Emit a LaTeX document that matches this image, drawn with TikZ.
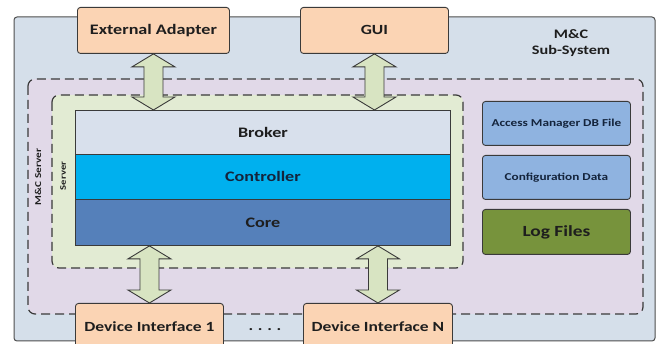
\documentclass[tikz,border=0pt]{standalone}
\usepackage{fontspec}
\setmainfont{Carlito}[FakeStretch=1.25]
\usetikzlibrary{calc}

\definecolor{sysfill}{HTML}{D5DFEA}
\definecolor{srvfill}{HTML}{E1D9E8}
\definecolor{innerfill}{HTML}{E2EBD3}
\definecolor{brokerfill}{HTML}{D8E0EC}
\definecolor{ctrlfill}{HTML}{00B0EE}
\definecolor{corefill}{HTML}{5580BA}
\definecolor{extfill}{HTML}{FBD4B4}
\definecolor{filefill}{HTML}{8FB3E0}
\definecolor{logfill}{HTML}{77933C}
\definecolor{arrowfill}{HTML}{D8E4C2}
\definecolor{edge}{HTML}{3A3A3A}
\definecolor{inktext}{HTML}{1E1E1E}
\definecolor{navytext}{HTML}{14243C}

\tikzset{
  x=1pt, y=-1pt,
  box/.style={draw=edge, line width=0.9pt, rounded corners=3pt, inner sep=0pt,
              font=\bfseries, text=inktext, anchor=north west},
  layer/.style={draw=edge, line width=0.9pt, inner sep=0pt, anchor=north west,
                font=\bfseries\fontsize{14.5}{16}\selectfont},
  dashbox/.style={draw=edge, line width=1.2pt, dash pattern=on 9pt off 5pt,
                  rounded corners=7pt},
  bidir/.style={draw=edge, line width=0.9pt, fill=arrowfill, line join=miter},
}

% double-headed block arrow between two points on a vertical line
\newcommand\blockarrow[2]{%
  \path[bidir] let \p1=(#1), \p2=(#2) in
    (\x1,\y1) -- (\x1+21.5pt,\y1-13pt) -- (\x1+9.5pt,\y1-13pt)
    -- (\x1+9.5pt,\y2+13pt) -- (\x1+21.5pt,\y2+13pt) -- (\x1,\y2)
    -- (\x1-21.5pt,\y2+13pt) -- (\x1-9.5pt,\y2+13pt)
    -- (\x1-9.5pt,\y1-13pt) -- (\x1-21.5pt,\y1-13pt) -- cycle;}

\begin{document}
\begin{tikzpicture}
\clip (0,0) rectangle (664,344);
\fill[white] (0,0) rectangle (664,344);

% M&C sub-system frame
\draw[draw=edge!90, line width=1pt, fill=sysfill, rounded corners=3pt]
  (14,17) rectangle (655,341);
\node[font=\bfseries\fontsize{13}{16}\selectfont, text=inktext, align=center]
  (sys) at (571,43) {M\&C\\Sub-System};

% M&C server and server areas
\draw[dashbox, fill=srvfill] (28,79) rectangle (643,314);
\draw[dashbox, fill=innerfill] (52,95) rectangle (463,268);
\node[rotate=90, font=\bfseries\fontsize{9}{10}\selectfont, text=inktext]
  (srvlabel) at (38,177) {M\&C Server};
\node[rotate=90, font=\bfseries\fontsize{8.5}{10}\selectfont, text=inktext]
  (innerlabel) at (63,176) {Server};

% layered core stack
\node[layer, fill=brokerfill, text=inktext, minimum width=375pt, minimum height=44pt]
  (broker) at (75,110) {Broker};
\node[layer, fill=ctrlfill, text=navytext, minimum width=375pt, minimum height=45pt]
  (ctrl) at (75,154) {Controller};
\node[layer, fill=corefill, text=inktext, minimum width=375pt, minimum height=46pt]
  (core) at (75,199) {Core};

% data stores
\node[box, fill=filefill, text=navytext, minimum width=148pt, minimum height=44pt,
      font=\bfseries\fontsize{10.6}{12}\selectfont]
  (acc) at (482,101) {Access Manager DB File};
\node[box, fill=filefill, text=navytext, minimum width=148pt, minimum height=44pt,
      font=\bfseries\fontsize{10.6}{12}\selectfont]
  (conf) at (482,155) {Configuration Data};
\node[box, fill=logfill, minimum width=148pt, minimum height=45pt,
      font=\bfseries\fontsize{15.5}{18}\selectfont]
  (log) at (482,209) {Log Files};

% external parties
\node[box, fill=extfill, minimum width=152pt, minimum height=46pt,
      font=\bfseries\fontsize{14.5}{16}\selectfont]
  (ext) at (77,7) {External Adapter};
\node[box, fill=extfill, minimum width=148pt, minimum height=46pt,
      font=\bfseries\fontsize{14}{16}\selectfont]
  (gui) at (300,7) {GUI};
\node[box, fill=extfill, minimum width=148pt, minimum height=46pt,
      font=\bfseries\fontsize{14}{16}\selectfont]
  (dev1) at (75,303) {\raisebox{-1pt}{Device Interface 1}};
\node[box, fill=extfill, minimum width=149pt, minimum height=46pt,
      font=\bfseries\fontsize{14}{16}\selectfont]
  (devn) at (303,303) {\raisebox{-1pt}{Device Interface N}};
\node[font=\bfseries\fontsize{14}{16}\selectfont, text=inktext]
  (dots) at (265,330) {.\,\,.\,\,.\,\,.};

% interface arrows
\coordinate (extend) at (ext.south |- broker.north);
\coordinate (guiend) at (gui.south |- broker.north);
\coordinate (devoneend) at (dev1.north |- core.south);
\coordinate (devnend) at (devn.north |- core.south);
\blockarrow{ext.south}{extend}
\blockarrow{gui.south}{guiend}
\blockarrow{devoneend}{dev1.north}
\blockarrow{devnend}{devn.north}
\end{tikzpicture}
\end{document}
